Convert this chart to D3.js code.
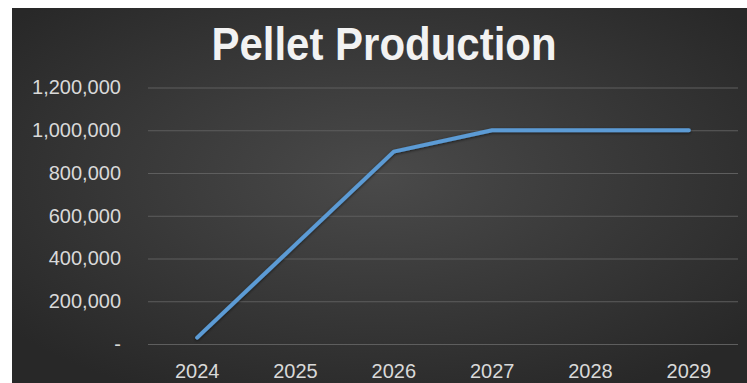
<!DOCTYPE html>
<html>
<head>
<meta charset="utf-8">
<script src="https://cdn.jsdelivr.net/npm/d3@7"></script>
<style>
  html, body { margin: 0; padding: 0; background: #fff; }
  svg { display: block; }
  .tick text { font-family: "Liberation Sans", Arial, sans-serif; fill: #d9d9d9; }
</style>
</head>
<body>
<div id="chart"></div>
<script>
const years = ["2024", "2025", "2026", "2027", "2028", "2029"];
const production = [30000, 465000, 900000, 1000000, 1000000, 1000000];
const yTicks = [0, 200000, 400000, 600000, 800000, 1000000, 1200000];
const chartTitle = "Pellet Production";

const width = 747;
const height = 383;
const plot = { left: 148, right: 738, top: 87.5, bottom: 344 };

const svg = d3.select('#chart')
    .append('svg')
    .attr('width', width)
    .attr('height', height);

const defs = svg.append('defs');
const bg = defs.append('radialGradient')
    .attr('id', 'bg')
    .attr('cx', '50%').attr('cy', '45%').attr('r', '65%');
bg.append('stop').attr('offset', '0%').attr('stop-color', '#4a4a4a');
bg.append('stop').attr('offset', '100%').attr('stop-color', '#282828');

const shadow = defs.append('filter').attr('id', 'glow')
    .attr('x', '-10%').attr('y', '-10%').attr('width', '120%').attr('height', '120%');
shadow.append('feDropShadow')
    .attr('dx', 0).attr('dy', 1).attr('stdDeviation', 1.5)
    .attr('flood-color', '#000').attr('flood-opacity', 0.6);

// chart area
svg.append('rect')
    .attr('x', 12).attr('y', 8)
    .attr('width', width - 12).attr('height', height - 8)
    .attr('fill', 'url(#bg)');

const x = d3.scaleBand()
    .domain(years)
    .range([plot.left, plot.right]);

const y = d3.scaleLinear()
    .domain([0, 1200000])
    .range([plot.bottom, plot.top]);

// gridlines
svg.append('g')
    .attr('transform', 'translate(' + plot.left + ',0)')
    .call(d3.axisLeft(y).tickValues(yTicks).tickSize(-(plot.right - plot.left)).tickFormat(''))
    .call(g => g.select('.domain').remove())
    .call(g => g.selectAll('.tick line').attr('stroke', '#5e5e5e').attr('stroke-width', 1));

// y labels
const fmt = d3.format(',');
svg.append('g')
    .attr('transform', 'translate(' + plot.left + ',0)')
    .call(d3.axisLeft(y).tickValues(yTicks).tickSize(0).tickPadding(27)
        .tickFormat(d => d === 0 ? '-' : fmt(d)))
    .call(g => g.select('.domain').remove())
    .call(g => g.selectAll('.tick text').attr('font-size', 20));

// x labels
svg.append('g')
    .attr('transform', 'translate(0,' + plot.bottom + ')')
    .call(d3.axisBottom(x).tickSize(0).tickPadding(20))
    .call(g => g.select('.domain').remove())
    .call(g => g.selectAll('.tick text').attr('font-size', 20));

// line
const line = d3.line()
    .x((d, i) => x(years[i]) + x.bandwidth() / 2)
    .y(d => y(d));

svg.append('path')
    .datum(production)
    .attr('d', line)
    .attr('fill', 'none')
    .attr('stroke', '#5b9bd5')
    .attr('stroke-width', 4)
    .attr('stroke-linecap', 'round')
    .attr('stroke-linejoin', 'round')
    .attr('filter', 'url(#glow)');

// title
svg.append('text')
    .attr('transform', 'translate(384,60) scale(1,1.1)')
    .attr('text-anchor', 'middle')
    .attr('font-family', '"Liberation Sans", Arial, sans-serif')
    .attr('font-weight', 'bold')
    .attr('font-size', 42)
    .attr('fill', '#f2f2f2')
    .text(chartTitle);
</script>
</body>
</html>
